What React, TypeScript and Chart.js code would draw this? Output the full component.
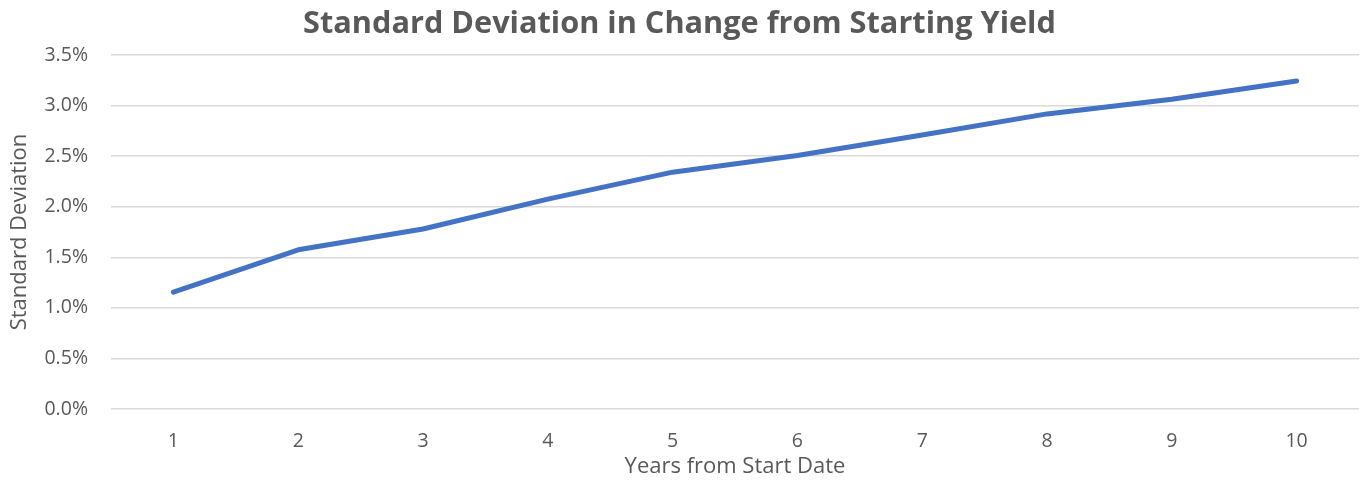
import React, { useEffect, useRef } from "react";
import { Chart, registerables } from "chart.js";

Chart.register(...registerables);

// Horizon in years since the start date
const years: string[] = ["1", "2", "3", "4", "5", "6", "7", "8", "9", "10"];

// Standard deviation of the yield change (percent)
const stdDevPct: number[] = [1.156, 1.574, 1.78, 2.075, 2.342, 2.506, 2.71, 2.918, 3.063, 3.244];

// Y axis range and step (percent)
const yMin = 0;
const yMax = 3.5;
const yStep = 0.5;

const titleText = "Standard Deviation in Change from Starting Yield";
const xTitle = "Years from Start Date";
const yTitle = "Standard Deviation";

const FONT = "'Open Sans', sans-serif";
const TEXT = "#595959";
const GRID = "#d9d9d9";
const LINE = "#4472c4";

export default function App() {
  const canvasRef = useRef<HTMLCanvasElement | null>(null);

  useEffect(() => {
    document.body.style.margin = "0";
    const canvas = canvasRef.current;
    if (!canvas) return;
    const chart = new Chart(canvas, {
      type: "line",
      data: {
        labels: years,
        datasets: [
          {
            data: stdDevPct,
            borderColor: LINE,
            backgroundColor: LINE,
            borderWidth: 5,
            borderCapStyle: "round",
            borderJoinStyle: "round",
            pointRadius: 0,
            tension: 0,
          },
        ],
      },
      options: {
        responsive: false,
        animation: false,
        layout: { padding: { left: 0, right: 3, top: 0, bottom: 0 } },
        plugins: {
          legend: { display: false },
          tooltip: { enabled: false },
          title: {
            display: true,
            text: titleText,
            color: TEXT,
            font: { family: FONT, size: 30.7, weight: "bold", lineHeight: 1.2 },
            padding: { top: 6, bottom: 12.2 },
          },
        },
        scales: {
          x: {
            offset: true,
            grid: { display: false, drawTicks: false },
            border: { display: false },
            ticks: {
              color: TEXT,
              font: { family: FONT, size: 19.5 },
              padding: 21,
              maxRotation: 0,
            },
            title: {
              display: true,
              text: xTitle,
              color: TEXT,
              font: { family: FONT, size: 22, lineHeight: 1.2 },
              padding: { top: 0, bottom: 1 },
            },
            afterFit: (scale: any) => {
              scale.height = 72;
            },
          },
          y: {
            min: yMin,
            max: yMax,
            grid: { color: GRID, lineWidth: 1.5, drawTicks: false },
            border: { display: false },
            ticks: {
              stepSize: yStep,
              color: TEXT,
              font: { family: FONT, size: 19.5 },
              padding: 23,
              callback: (v: any) => Number(v).toFixed(1) + "%",
            },
            title: {
              display: true,
              text: yTitle,
              color: TEXT,
              font: { family: FONT, size: 22, lineHeight: 1.2 },
              padding: { top: 7, bottom: 0 },
            },
            afterFit: (scale: any) => {
              scale.width = 111;
            },
          },
        },
      },
    });
    return () => chart.destroy();
  }, []);

  return (
    <div style={{ width: 1362, height: 481, background: "#ffffff" }}>
      <canvas ref={canvasRef} width={1362} height={481} />
    </div>
  );
}
